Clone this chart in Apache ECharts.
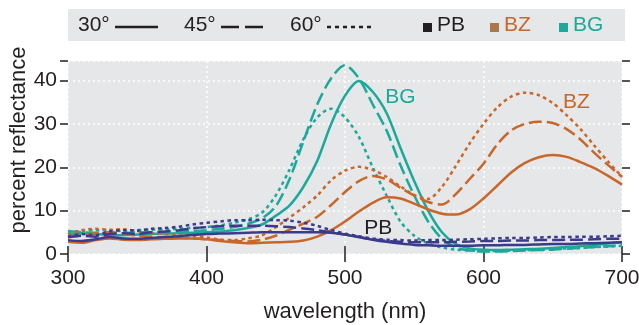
<!DOCTYPE html>
<html><head><meta charset="utf-8">
<script src="https://cdn.jsdelivr.net/npm/echarts@6/dist/echarts.min.js"></script>
<style>html,body{margin:0;padding:0;background:#fff}#c{width:639px;height:325px}</style>
</head><body><div id="c"></div>
<script>
const wavelengths = [300,310,320,330,340,350,360,370,380,390,400,410,420,430,440,450,460,470,480,490,500,510,520,530,540,550,560,570,580,590,600,610,620,630,640,650,660,670,680,690,700];
const xTicks = [300,400,500,600,700];
const yTicks = [0,10,20,30,40];
const angles = ['30°','45°','60°'];
const groups = ['PB','BZ','BG'];

const BG_30 = [4.5,4.8,4.6,4.4,4.3,4.5,4.6,4.7,4.8,4.9,5.0,5.2,5.5,6.0,6.8,8.8,11.2,15.5,21.5,30,36.5,39.9,37.4,32.5,24.5,16.8,10,5,2.3,1.3,1.0,0.9,1.0,1.1,1.2,1.4,1.6,1.8,2.1,2.4,2.7];
const BG_45 = [5.3,5.0,4.9,5.0,4.8,5.0,5.0,5.1,5.2,5.3,5.5,5.8,6.2,7.0,8.2,11,17.3,26,34.5,40.5,43.5,40.5,34.5,28.5,20.5,13.5,7.5,3.5,1.5,0.8,0.6,0.6,0.7,0.8,0.9,1.0,1.2,1.4,1.6,1.8,2.0];
const BG_60 = [5.0,5.3,5.5,5.4,5.3,5.5,5.6,5.7,5.8,6.0,6.2,6.6,7.2,8.0,9.5,13.5,19.5,26.5,31.5,33.5,31.5,27,20,13.5,7.5,4.2,2.4,1.5,1.0,0.8,0.7,0.7,0.8,0.9,1.0,1.1,1.3,1.4,1.6,1.7,1.9];

const BZ_30 = [2.8,2.6,3.2,3.6,3.3,3.2,3.4,3.5,3.6,3.6,3.4,3.0,2.7,2.5,2.6,2.7,2.8,3.1,4.0,5.5,7.5,9.8,11.8,13.1,12.8,11.6,10.3,9.3,9.1,10.3,12.8,15.8,18.8,21,22.3,22.8,22.4,21.2,19.8,18,16];
const BZ_45 = [3.8,4.3,4.8,5.0,4.6,4.2,4.0,3.9,3.8,3.6,3.4,3.2,3.0,2.9,3.3,4.2,5.6,7.0,8.6,11.3,14.3,16.8,18.0,17.2,15.3,13.5,12.0,11.4,13.8,17.3,20.8,25.3,28.5,30,30.5,30.2,28.8,26.4,23.3,20.5,17.8];
const BZ_60 = [4.5,5.5,5.8,5.6,5.7,5.3,4.8,4.6,4.4,4.2,3.8,3.3,3.2,3.6,4.3,6.2,8.4,10.8,13.5,17,19.2,20.1,19.4,17.8,15.6,13.6,12.7,15.5,20.3,25.5,30,33.8,36.3,37.2,36.6,34.8,32,28.8,25,21.3,17.8];

const PB_30 = [3.2,3.0,3.4,3.9,3.6,3.5,3.7,3.9,4.1,4.4,4.6,4.7,4.8,4.9,5.0,5.0,5.0,5.0,5.0,4.9,4.5,3.9,3.3,2.8,2.4,2.1,2.0,1.9,1.9,1.9,2.0,2.0,2.1,2.1,2.2,2.3,2.3,2.4,2.5,2.6,2.7];
const PB_45 = [3.9,4.2,4.0,4.6,4.8,4.6,5.0,5.2,5.5,5.9,6.2,6.4,6.5,6.5,6.5,6.4,6.2,5.9,5.5,5.0,4.5,3.9,3.4,3.0,2.8,2.7,2.7,2.7,2.8,2.9,3.0,3.0,3.1,3.1,3.2,3.2,3.3,3.3,3.4,3.5,3.5];
const PB_60 = [4.0,4.6,4.3,5.2,5.5,5.4,5.8,6.0,6.3,6.8,7.2,7.5,7.8,7.8,7.9,7.8,7.7,7.2,6.5,5.5,4.7,4.1,3.6,3.3,3.2,3.1,3.2,3.2,3.3,3.4,3.5,3.6,3.7,3.7,3.8,3.9,3.9,4.0,4.0,4.1,4.2];

const COL = {PB:'#3b3a8c', BZ:'#c8672a', BG:'#1aa99a'};
const DASH = {'30°':'solid','45°':[13,5],'60°':[3.5,3.5]};
const FONT = 'Liberation Sans';
const FS = 21;
const INK = '#231f20';

const seriesDefs = [
  ['BG','30°',BG_30],['BG','45°',BG_45],['BG','60°',BG_60],
  ['BZ','30°',BZ_30],['BZ','45°',BZ_45],['BZ','60°',BZ_60],
  ['PB','30°',PB_30],['PB','45°',PB_45],['PB','60°',PB_60]
];

const series = seriesDefs.map(([g,a,vals]) => ({
  type:'line', name:g+' '+a, xAxisIndex:0, yAxisIndex:0,
  data: wavelengths.map((w,i)=>[w,vals[i]]),
  smooth:0.3, showSymbol:false, symbol:'none', silent:true,
  lineStyle:{color:COL[g], width:2.5, type:DASH[a], cap:'butt'}
}));

const tickStyle = {show:true, inside:false, length:8, lineStyle:{color:INK, width:1.5}};
const chart = echarts.init(document.getElementById('c'), null, {renderer:'canvas'});
const option = {
  animation:false,
  backgroundColor:'#ffffff',
  grid:{left:68, right:17, top:61, bottom:71, show:true, backgroundColor:'#e6e7e8', borderWidth:0,
        containLabel:false, outerBoundsMode:'none'},
  xAxis:[
    {type:'value', min:300, max:700, interval:100, position:'bottom',
     axisLine:{show:false}, axisTick:tickStyle,
     axisLabel:{color:INK, fontSize:FS, fontFamily:FONT, margin:14},
     splitLine:{show:true, lineStyle:{color:'#ffffff', type:[2,3], width:1.5}},
     name:'wavelength (nm)', nameLocation:'middle', nameGap:47,
     nameTextStyle:{color:INK, fontSize:22, fontFamily:FONT}},
    {type:'value', min:300, max:700, interval:100, position:'top',
     axisLine:{show:false}, axisTick:tickStyle, axisLabel:{show:false}, splitLine:{show:false}}
  ],
  yAxis:[
    {type:'value', min:0, max:44.5, interval:10, position:'left',
     axisLine:{show:false}, axisTick:tickStyle,
     axisLabel:{color:INK, fontSize:FS, fontFamily:FONT, margin:11,
       formatter:v=> yTicks.includes(v)? String(v):''},
     splitLine:{show:true, lineStyle:{color:'#ffffff', type:[2,3], width:1.5}}},
    {type:'value', min:0, max:44.5, interval:10, position:'right',
     axisLine:{show:false}, axisTick:tickStyle, axisLabel:{show:false}, splitLine:{show:false}}
  ],
  series: series
};
chart.setOption(option);

// legend panel
const LY = 25;
const g = [];
g.push({type:'rect', shape:{x:68,y:9,width:557,height:32}, style:{fill:'#e6e7e8'}, z:0});
const angX = [78,184,290];
const lineSeg = [[115,158],[221,263],[327,372]];
angles.forEach((a,i)=>{
  g.push({type:'text', x:angX[i], y:LY, style:{text:a, fontSize:FS, fontFamily:FONT, fill:INK, verticalAlign:'middle'}, z:2});
  g.push({type:'line', shape:{x1:lineSeg[i][0],y1:LY+2,x2:lineSeg[i][1],y2:LY+2},
    style:{stroke:INK, lineWidth:2.5, lineDash: a==='30°'?null:(a==='45°'?[18,6]:[4,4])}, z:2});
});
const sqCol = {PB:'#231f20', BZ:'#a9784f', BG:'#1aa99a'};
const txtCol = {PB:'#231f20', BZ:'#c8672a', BG:'#1aa99a'};
const sqX = {PB:423, BZ:490, BG:559};
groups.forEach(k=>{
  g.push({type:'rect', shape:{x:sqX[k], y:LY-2, width:9, height:9}, style:{fill:sqCol[k]}, z:2});
  g.push({type:'text', x:sqX[k]+14, y:LY, style:{text:k, fontSize:FS, fontFamily:FONT, fill:txtCol[k], verticalAlign:'middle'}, z:2});
});
// y-axis title
g.push({type:'text', x:19, y:140, rotation:Math.PI/2,
  style:{text:'percent reflectance', fontSize:22, fontFamily:FONT, fill:INK, align:'center', verticalAlign:'middle'}, z:2});
// in-plot labels anchored by data coordinates
const annot = [['BG',540,36.2],['BZ',667,35],['PB',524,6.0]];
annot.forEach(([k,x,y])=>{
  const p = chart.convertToPixel({xAxisIndex:0,yAxisIndex:0},[x,y]);
  g.push({type:'text', x:p[0], y:p[1], style:{text:k, fontSize:FS, fontFamily:FONT, fill:txtCol[k], align:'center', verticalAlign:'middle'}, z:5});
});
chart.setOption({graphic:g});
</script></body></html>
